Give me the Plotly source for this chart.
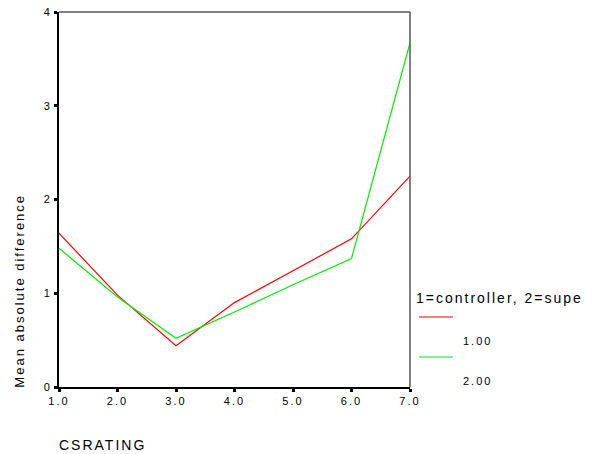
import plotly.graph_objects as go

csrating = [1.0, 2.0, 3.0, 4.0, 5.0, 6.0, 7.0]
controller = [1.64, 0.98, 0.44, 0.90, 1.24, 1.58, 2.25]
supervisor = [1.48, 0.96, 0.52, 0.80, 1.09, 1.37, 3.67]
x_ticks = [1, 2, 3, 4, 5, 6, 7]
x_tick_labels = ["1.0", "2.0", "3.0", "4.0", "5.0", "6.0", "7.0"]
y_ticks = [0, 1, 2, 3, 4]
legend_title = "1=controller, 2=supe"
legend_labels = ["1.00", "2.00"]
colors = ["#ff0000", "#00ee00"]

FONT = "Liberation Sans, Arial, sans-serif"

fig = go.Figure()
for ys, c, name in zip([controller, supervisor], colors, legend_labels):
    fig.add_trace(go.Scatter(x=csrating, y=ys, mode="lines", name=name,
                             line=dict(color=c, width=1.2), showlegend=False,
                             cliponaxis=False, hoverinfo="skip"))

fig.update_layout(
    width=593, height=454,
    margin=dict(l=59, r=183, t=12, b=67),
    paper_bgcolor="white", plot_bgcolor="white",
    font=dict(family=FONT, size=11, color="black"),
    xaxis=dict(range=[1, 7], tickvals=x_ticks, ticktext=x_tick_labels,
               showgrid=False, zeroline=False, showline=True, linecolor="black",
               linewidth=2, ticks="outside", ticklen=3, tickwidth=3, tickcolor="black",
               tickfont=dict(size=11, family=FONT), automargin=False),
    yaxis=dict(range=[0, 4], tickvals=y_ticks, showgrid=False, zeroline=False,
               showline=True, linecolor="black", linewidth=2, ticks="outside",
               ticklen=3, tickwidth=3, tickcolor="black",
               tickfont=dict(size=11, family=FONT), automargin=False),
)

# grey top and right frame
fig.add_shape(type="line", xref="paper", yref="paper", x0=0, x1=1, y0=1, y1=1,
              line=dict(color="#555555", width=1.5))
fig.add_shape(type="line", xref="paper", yref="paper", x0=1, x1=1, y0=0, y1=1,
              line=dict(color="#555555", width=1.5))

# axis titles
fig.add_annotation(text="Mean absolute difference", xref="paper", yref="paper",
                   x=-0.111, y=0.257, textangle=-90, showarrow=False,
                   font=dict(size=13, family=FONT), xanchor="center", yanchor="middle")
fig.add_annotation(text="CSRATING", xref="paper", yref="paper",
                   x=-0.0057, y=-0.155, showarrow=False, align="left",
                   font=dict(size=14, family=FONT), xanchor="left", yanchor="middle")

# legend
fig.add_annotation(text=legend_title, xref="paper", yref="paper",
                   x=1.0114, y=0.2373, showarrow=False, align="left",
                   font=dict(size=14, family=FONT), xanchor="left", yanchor="middle")
for i, (c, lab) in enumerate(zip(colors, legend_labels)):
    ly = 0.1867 - i * 0.1067
    fig.add_shape(type="line", xref="paper", yref="paper", x0=1.0256, x1=1.1225,
                  y0=ly, y1=ly, line=dict(color=c, width=1.2))
    fig.add_annotation(text=lab, xref="paper", yref="paper", x=1.1453, y=ly - 0.064,
                       showarrow=False, align="left", font=dict(size=11, family=FONT),
                       xanchor="left", yanchor="middle")

post = (
    "document.body.style.margin='0';"
    "var s=document.createElement('style');"
    "s.innerHTML='.main-svg text{letter-spacing:2px}';"
    "document.head.appendChild(s);"
)
fig.write_html("out.html", post_script=post, config={"displayModeBar": False})
